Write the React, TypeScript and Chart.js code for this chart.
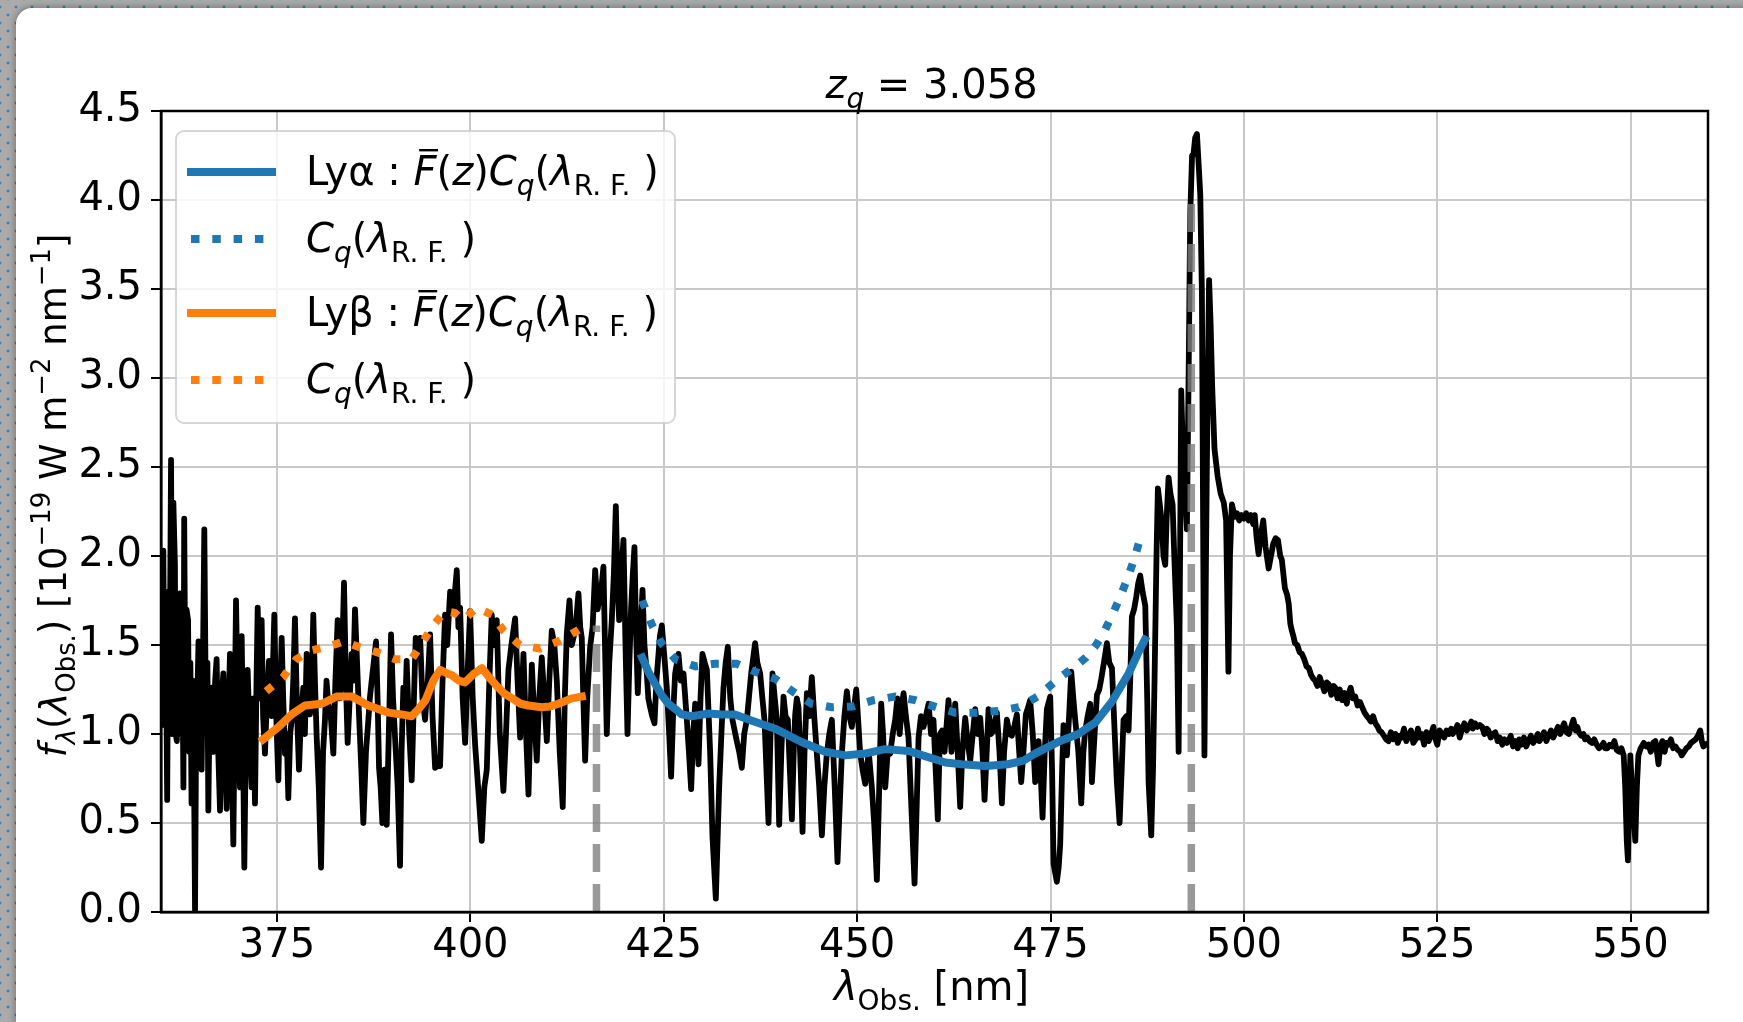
import React, { useEffect, useRef } from "react";
import { Chart, registerables } from "chart.js";

Chart.register(...registerables);

// ---------------- DATA ----------------
const xTickValues = [375, 400, 425, 450, 475, 500, 525, 550];
const yTickValues = [0, 0.5, 1, 1.5, 2, 2.5, 3, 3.5, 4, 4.5];

// observed spectrum [lambda_obs (nm), flux]
const spectrum: [number, number][] = [
  [360.0, 1.45], [360.15, 1.05], [360.3, 2.03], [360.45, 1.1], [360.6, 1.7], [360.8, 0.63], [360.95, 1.8], [361.1, 1.2],
  [361.3, 2.54], [361.45, 1.0], [361.6, 2.3], [361.8, 1.95], [361.9, 1.0], [362.05, 0.96], [362.2, 1.6], [362.45, 1.79],
  [362.6, 1.0], [362.75, 1.5], [362.9, 0.7], [363.0, 2.21], [363.15, 1.2], [363.3, 1.7], [363.5, 1.64], [363.65, 0.9],
  [363.8, 1.4], [363.95, 0.61], [364.1, 1.3], [364.25, 0.9], [364.4, 0.01], [364.55, 1.1], [364.7, 1.2], [364.85, 1.52],
  [365.0, 1.0], [365.25, 0.8], [365.4, 1.3], [365.6, 2.15], [365.8, 1.1], [366.0, 1.4], [366.12, 0.57], [366.3, 1.2],
  [366.55, 1.26], [366.8, 0.9], [367.0, 1.3], [367.19, 1.42], [367.4, 0.9], [367.63, 0.57], [367.85, 1.2], [368.06, 1.34],
  [368.25, 0.9], [368.49, 0.58], [368.7, 1.1], [368.92, 1.45], [369.15, 0.9], [369.35, 0.38], [369.55, 1.2], [369.7, 1.75],
  [369.95, 1.1], [370.21, 0.7], [370.43, 1.55], [370.6, 1.0], [370.77, 0.25], [371.0, 1.1], [371.2, 1.36], [371.45, 1.0],
  [371.72, 0.7], [371.95, 1.2], [372.15, 0.61], [372.35, 1.3], [372.5, 1.71], [372.75, 1.2], [373.01, 1.64], [373.2, 1.1],
  [373.44, 0.89], [373.7, 1.2], [373.96, 1.41], [374.3, 1.1], [374.65, 1.67], [374.9, 1.1], [375.17, 0.74], [375.4, 1.2],
  [375.6, 1.54], [375.8, 1.2], [376.03, 0.89], [376.25, 1.0], [376.46, 0.64], [376.7, 1.0], [376.89, 1.08], [377.1, 1.3],
  [377.32, 1.65], [377.6, 1.1], [377.84, 0.8], [378.1, 1.1], [378.4, 1.26], [378.6, 1.0], [378.83, 1.45], [379.0, 1.25],
  [379.26, 1.11], [379.5, 1.3], [379.69, 1.67], [379.9, 1.3], [380.13, 0.98], [380.4, 0.7], [380.69, 0.25], [380.95, 0.9],
  [381.2, 1.08], [381.4, 1.3], [381.63, 1.17], [381.95, 1.1], [382.28, 0.89], [382.55, 1.3], [382.84, 1.64], [383.1, 1.2],
  [383.36, 1.34], [383.66, 1.85], [383.9, 1.3], [384.13, 0.95], [384.4, 1.2], [384.65, 1.45], [384.85, 1.3], [385.08, 1.7],
  [385.35, 1.4], [385.6, 1.11], [385.9, 0.8], [386.16, 0.5], [386.5, 0.9], [386.81, 1.08], [387.0, 1.2], [387.24, 1.3],
  [387.5, 1.4], [387.8, 1.52], [388.0, 1.2], [388.19, 0.81], [388.4, 0.7], [388.62, 0.5], [388.9, 0.8], [389.18, 0.49],
  [389.45, 1.0], [389.74, 1.56], [390.0, 1.2], [390.26, 0.98], [390.6, 0.7], [390.9, 0.26], [391.1, 0.9], [391.33, 1.26],
  [391.55, 1.1], [391.76, 1.41], [392.1, 1.0], [392.41, 0.74], [392.7, 1.2], [392.93, 1.54], [393.2, 1.5], [393.5, 1.54],
  [393.8, 1.2], [394.14, 1.08], [394.5, 1.3], [394.79, 1.56], [395.1, 1.1], [395.44, 0.81], [395.8, 0.82], [396.08, 0.82],
  [396.4, 1.3], [396.73, 1.67], [397.0, 1.5], [397.38, 1.8], [397.8, 1.7], [398.0, 1.8], [398.24, 1.92], [398.45, 1.6],
  [398.67, 1.71], [399.0, 1.2], [399.32, 0.95], [399.6, 1.3], [399.96, 1.69], [400.3, 1.2], [400.61, 0.94], [401.0, 0.7],
  [401.47, 0.4], [401.8, 0.7], [402.12, 0.8], [402.45, 1.3], [402.76, 1.67], [403.1, 1.5], [403.41, 1.64], [403.8, 1.0],
  [404.27, 0.68], [404.6, 1.0], [404.92, 1.36], [405.3, 1.5], [405.78, 1.65], [406.1, 1.3], [406.43, 0.98], [406.86, 1.45],
  [407.2, 1.0], [407.51, 0.66], [407.94, 1.39], [408.25, 1.1], [408.58, 0.85], [408.9, 1.2], [409.23, 1.43], [409.55, 1.2],
  [409.88, 0.96], [410.2, 1.3], [410.52, 1.58], [410.85, 1.5], [411.17, 1.3], [411.55, 0.9], [411.94, 0.59], [412.2, 1.2],
  [412.46, 1.56], [412.81, 1.75], [413.1, 1.5], [413.32, 1.54], [413.6, 1.6], [413.97, 1.79], [414.2, 1.6], [414.4, 1.54],
  [414.6, 1.2], [414.83, 0.85], [415.1, 1.2], [415.48, 1.49], [415.8, 1.6], [416.13, 1.92], [416.45, 1.7], [416.77, 1.79],
  [417.0, 1.85], [417.2, 1.94], [417.4, 1.5], [417.63, 1.0], [417.95, 1.4], [418.28, 1.64], [418.55, 1.9], [418.8, 2.28],
  [419.0, 1.9], [419.23, 1.64], [419.5, 1.9], [419.79, 2.09], [420.05, 1.5], [420.31, 1.0], [420.55, 1.4], [420.78, 1.71],
  [421.0, 1.9], [421.21, 2.05], [421.4, 1.6], [421.64, 1.23], [421.9, 1.5], [422.25, 1.81], [422.5, 1.5], [422.81, 1.34],
  [423.0, 1.2], [423.24, 1.15], [423.5, 1.1], [423.8, 1.06], [424.05, 1.3], [424.32, 1.45], [424.5, 1.55], [424.75, 1.61],
  [425.05, 1.45], [425.39, 1.26], [425.7, 1.0], [425.95, 0.76], [426.2, 1.1], [426.47, 1.34], [426.9, 1.45], [427.2, 1.3],
  [427.55, 1.34], [427.98, 1.08], [428.25, 0.9], [428.54, 0.69], [428.8, 1.0], [429.06, 1.17], [429.49, 0.83], [429.75, 1.2],
  [430.0, 1.45], [430.3, 1.4], [430.57, 1.36], [431.0, 0.89], [431.3, 0.42], [431.73, 0.075], [431.95, 0.4], [432.16, 0.7],
  [432.45, 1.0], [432.72, 1.26], [433.0, 1.4], [433.28, 1.49], [433.6, 1.2], [433.88, 1.08], [434.44, 0.96], [434.75, 0.9],
  [435.09, 0.81], [435.4, 1.0], [435.74, 1.08], [436.0, 1.2], [436.3, 1.34], [436.81, 1.51], [437.1, 1.4], [437.46, 1.34],
  [437.75, 1.2], [438.02, 1.08], [438.54, 0.5], [438.8, 1.0], [439.06, 1.34], [439.35, 1.2], [439.62, 1.08], [439.92, 0.49],
  [440.2, 0.9], [440.48, 1.21], [440.75, 1.1], [441.04, 1.08], [441.3, 0.8], [441.56, 0.52], [441.8, 0.9], [441.99, 1.11],
  [442.2, 1.2], [442.42, 1.15], [442.7, 0.8], [442.94, 0.45], [443.2, 0.9], [443.5, 1.23], [443.8, 1.1], [444.14, 1.32],
  [444.45, 1.1], [444.79, 0.89], [445.1, 0.7], [445.44, 0.43], [445.75, 0.7], [446.08, 0.89], [446.4, 1.0], [446.73, 1.08],
  [447.1, 0.7], [447.46, 0.28], [447.75, 0.6], [448.02, 0.89], [448.35, 1.1], [448.67, 1.24], [449.0, 1.1], [449.31, 1.04],
  [449.6, 1.15], [449.88, 1.25], [450.1, 1.1], [450.39, 0.89], [450.7, 0.8], [451.04, 0.72], [451.5, 0.9], [451.9, 0.7],
  [452.2, 0.5], [452.55, 0.18], [452.8, 0.6], [453.11, 1.17], [453.35, 1.0], [453.63, 0.7], [453.95, 0.9], [454.27, 0.89],
  [454.6, 1.0], [454.92, 1.08], [455.2, 1.2], [455.5, 1.0], [455.75, 1.15], [456.0, 1.23], [456.3, 1.1], [456.64, 0.98],
  [457.0, 0.6], [457.42, 0.16], [457.7, 0.6], [457.94, 0.98], [458.25, 1.1], [458.58, 1.04], [458.9, 1.1], [459.23, 1.17],
  [459.55, 1.0], [459.87, 1.08], [460.15, 0.8], [460.43, 0.52], [460.7, 1.0], [461.0, 1.02], [461.3, 0.9], [461.81, 1.19],
  [462.2, 0.9], [462.68, 1.17], [463.0, 0.9], [463.32, 0.59], [463.6, 0.9], [463.97, 1.09], [464.3, 0.95], [464.62, 0.85],
  [464.95, 1.0], [465.26, 1.14], [465.6, 1.0], [465.91, 1.09], [466.2, 0.9], [466.47, 0.63], [466.75, 0.9], [466.99, 1.14],
  [467.3, 1.0], [467.63, 1.02], [468.06, 1.12], [468.4, 0.9], [468.71, 0.61], [469.0, 0.9], [469.36, 1.08], [469.7, 1.0],
  [470.0, 0.99], [470.35, 1.05], [470.65, 1.11], [470.95, 0.9], [471.21, 0.73], [471.5, 0.9], [471.81, 1.11], [472.1, 1.15],
  [472.37, 1.19], [472.7, 1.0], [473.02, 0.73], [473.25, 0.8], [473.45, 0.96], [473.7, 0.8], [473.97, 0.53], [474.25, 0.9],
  [474.53, 1.14], [474.96, 1.21], [475.2, 0.8], [475.39, 0.27], [475.82, 0.17], [476.05, 0.25], [476.25, 0.38], [476.5, 0.8],
  [476.68, 1.05], [477.12, 0.88], [477.4, 1.1], [477.68, 1.35], [477.95, 1.2], [478.19, 1.08], [478.6, 0.9], [478.97, 0.61],
  [479.25, 0.9], [479.49, 1.02], [479.8, 1.1], [480.13, 1.17], [480.35, 0.73], [480.7, 1.0], [481.0, 1.22], [481.3, 1.25],
  [481.56, 1.31], [481.9, 1.4], [482.29, 1.51], [482.6, 1.4], [482.94, 1.37], [483.3, 1.0], [483.58, 0.73], [483.93, 0.5],
  [484.2, 0.8], [484.44, 1.08], [484.8, 1.1], [485.09, 1.02], [485.3, 1.3], [485.52, 1.66], [485.8, 1.7], [486.08, 1.77],
  [486.35, 1.85], [486.6, 1.89], [486.9, 1.8], [487.25, 1.72], [487.5, 1.2], [487.68, 0.73], [488.02, 0.43], [488.25, 0.8],
  [488.45, 1.31], [488.7, 2.0], [488.88, 2.38], [489.1, 2.3], [489.4, 2.18], [489.6, 2.0], [489.83, 1.95], [490.0, 2.2],
  [490.26, 2.44], [490.5, 2.35], [490.78, 2.29], [491.0, 2.0], [491.34, 1.6], [491.56, 0.9], [491.75, 2.0], [491.9, 2.93],
  [492.1, 2.6], [492.33, 2.41], [492.63, 2.15], [492.85, 3.0], [493.06, 3.92], [493.3, 4.25], [493.49, 4.26], [493.7, 4.35],
  [493.93, 4.37], [494.15, 4.2], [494.36, 4.03], [494.57, 3.48], [494.75, 2.0], [494.9, 0.88], [495.1, 2.0], [495.3, 2.9],
  [495.5, 3.55], [495.7, 3.3], [495.9, 2.95], [496.2, 2.6], [496.6, 2.45], [497.0, 2.35], [497.4, 2.3], [497.7, 2.2],
  [498.0, 1.35], [498.2, 2.0], [498.45, 2.29], [498.8, 2.22], [499.1, 2.24], [499.4, 2.2], [499.7, 2.23], [500.0, 2.21],
  [500.3, 2.24], [500.6, 2.2], [500.9, 2.23], [501.2, 2.18], [501.4, 2.23], [501.65, 2.1], [501.9, 2.01], [502.2, 2.12],
  [502.5, 2.2], [502.8, 2.05], [503.2, 1.93], [503.5, 2.0], [503.8, 2.07], [504.1, 2.1], [504.4, 2.09], [504.7, 2.0],
  [504.9, 1.98], [505.1, 1.9], [505.3, 1.82], [505.6, 1.78], [505.8, 1.73], [506.0, 1.62], [506.2, 1.58], [506.4, 1.55],
  [506.6, 1.51], [506.9, 1.5], [507.2, 1.46], [507.5, 1.45], [507.8, 1.42], [508.1, 1.38], [508.4, 1.37], [508.7, 1.33],
  [509.0, 1.31], [509.2, 1.3], [509.5, 1.27], [509.8, 1.32], [510.1, 1.28], [510.4, 1.24], [510.7, 1.29], [510.95, 1.28],
  [511.3, 1.22], [511.6, 1.27], [511.8, 1.26], [512.1, 1.2], [512.4, 1.25], [512.7, 1.19], [513.0, 1.23], [513.3, 1.17],
  [513.5, 1.22], [513.8, 1.26], [514.1, 1.2], [514.4, 1.21], [514.7, 1.16], [515.0, 1.18], [515.3, 1.15], [515.6, 1.12],
  [515.9, 1.1], [516.1, 1.09], [516.4, 1.07], [516.7, 1.1], [517.0, 1.06], [517.3, 1.04], [517.5, 1.02], [517.8, 1.01],
  [518.1, 0.99], [518.4, 0.97], [518.7, 0.96], [519.0, 1.01], [519.3, 0.97], [519.6, 1.0], [519.9, 0.95], [520.2, 0.99],
  [520.4, 0.98], [520.7, 1.03], [521.0, 0.96], [521.3, 0.99], [521.6, 1.02], [521.9, 0.95], [522.2, 0.97], [522.5, 1.03],
  [522.8, 0.98], [523.0, 1.0], [523.3, 0.94], [523.6, 1.01], [523.9, 0.96], [524.2, 1.0], [524.5, 1.04], [524.7, 0.98],
  [525.0, 0.94], [525.3, 1.02], [525.6, 1.0], [525.9, 0.98], [526.2, 1.02], [526.5, 1.0], [526.8, 1.03], [527.0, 1.0],
  [527.3, 1.02], [527.6, 1.05], [527.9, 0.98], [528.2, 1.03], [528.5, 1.06], [528.8, 1.02], [529.1, 1.04], [529.4, 1.07],
  [529.6, 1.03], [529.9, 1.06], [530.2, 1.04], [530.5, 1.05], [530.8, 1.04], [531.1, 1.0], [531.4, 1.03], [531.6, 1.02],
  [531.9, 0.98], [532.2, 1.0], [532.5, 1.01], [532.8, 0.96], [533.1, 0.98], [533.4, 0.94], [533.7, 0.97], [534.0, 0.95],
  [534.2, 0.96], [534.5, 0.99], [534.8, 0.93], [535.1, 0.96], [535.4, 0.92], [535.6, 0.97], [535.9, 0.94], [536.2, 0.98],
  [536.5, 0.93], [536.8, 0.96], [537.1, 0.99], [537.4, 0.95], [537.7, 0.97], [538.0, 1.0], [538.2, 0.96], [538.5, 0.98],
  [538.8, 1.01], [539.1, 0.96], [539.4, 0.99], [539.7, 1.02], [540.0, 0.98], [540.3, 1.01], [540.6, 1.04], [540.9, 1.0],
  [541.1, 1.03], [541.4, 1.06], [541.7, 1.01], [542.0, 1.0], [542.3, 1.04], [542.6, 1.08], [542.9, 1.02], [543.1, 1.04],
  [543.3, 1.01], [543.6, 0.99], [543.9, 1.0], [544.1, 0.97], [544.4, 0.98], [544.7, 0.96], [545.0, 0.95], [545.3, 0.97],
  [545.6, 0.94], [545.9, 0.92], [546.2, 0.93], [546.5, 0.95], [546.7, 0.92], [547.0, 0.92], [547.3, 0.94], [547.6, 0.93],
  [547.9, 0.96], [548.2, 0.91], [548.5, 0.9], [548.8, 0.92], [549.1, 0.88], [549.3, 0.7], [549.5, 0.4], [549.65, 0.29],
  [549.8, 0.6], [549.96, 0.88], [550.15, 0.7], [550.3, 0.6], [550.45, 0.5], [550.6, 0.4], [550.8, 0.7], [551.0, 0.88],
  [551.3, 0.92], [551.7, 0.95], [552.0, 0.93], [552.3, 0.94], [552.6, 0.9], [552.9, 0.95], [553.2, 0.96], [553.4, 0.9],
  [553.6, 0.83], [553.8, 0.92], [554.1, 0.96], [554.4, 0.9], [554.6, 0.95], [554.9, 0.94], [555.2, 0.97], [555.5, 0.92],
  [555.8, 0.93], [556.1, 0.91], [556.4, 0.9], [556.6, 0.88], [556.9, 0.9], [557.2, 0.92], [557.5, 0.93], [557.8, 0.95],
  [558.1, 0.96], [558.4, 0.97], [558.7, 0.99], [559.0, 1.02], [559.2, 0.96], [559.4, 0.93], [559.7, 0.94], [560.0, 0.95],
];

// Ly-alpha forest model: F(z) C_q
const lyAlphaLambda = [422.2, 423.0, 423.9, 424.7, 425.6, 426.5, 427.3, 428.6, 430.8, 432.5, 434.2, 436.4, 439.4, 442.8, 445.9, 448.5, 451.0, 453.6, 456.6, 459.2, 461.4, 463.5, 466.6, 469.5, 471.5, 473.0, 476.0, 478.6, 480.8, 482.9, 485.1, 486.6, 487.2];
const lyAlphaFlux = [1.43, 1.35, 1.28, 1.22, 1.17, 1.14, 1.11, 1.10, 1.115, 1.11, 1.11, 1.075, 1.03, 0.955, 0.90, 0.88, 0.89, 0.915, 0.905, 0.87, 0.84, 0.83, 0.82, 0.83, 0.85, 0.89, 0.956, 1.0, 1.065, 1.18, 1.34, 1.48, 1.53];
// Ly-alpha continuum C_q
const lyAlphaContLambda = [422.2, 423.5, 424.7, 426.5, 429.1, 431.6, 434.4, 436.8, 439.4, 441.8, 444.1, 446.7, 449.5, 452.1, 454.9, 457.5, 460.3, 462.7, 465.5, 468.3, 470.9, 473.3, 475.2, 476.6, 478.2, 479.6, 480.9, 482.0, 483.0, 484.0, 485.0, 485.8, 486.6];
const lyAlphaContFlux = [1.75, 1.61, 1.51, 1.42, 1.38, 1.395, 1.395, 1.35, 1.31, 1.235, 1.17, 1.15, 1.155, 1.19, 1.21, 1.19, 1.15, 1.12, 1.12, 1.13, 1.15, 1.21, 1.28, 1.33, 1.38, 1.43, 1.50, 1.58, 1.67, 1.77, 1.88, 1.98, 2.10];
// Ly-beta forest model
const lyBetaLambda = [373.2, 375.2, 376.9, 378.6, 380.8, 382.7, 384.7, 386.8, 389.4, 391.1, 392.4, 393.3, 394.2, 395.2, 396.1, 397.0, 397.6, 398.5, 399.3, 400.5, 401.5, 402.4, 403.2, 404.3, 405.4, 406.5, 407.5, 409.2, 410.3, 411.4, 413.1, 414.4];
const lyBetaFlux = [0.97, 1.04, 1.11, 1.16, 1.17, 1.21, 1.21, 1.16, 1.12, 1.11, 1.10, 1.14, 1.19, 1.30, 1.36, 1.34, 1.33, 1.30, 1.29, 1.34, 1.37, 1.32, 1.28, 1.23, 1.20, 1.17, 1.16, 1.15, 1.155, 1.17, 1.20, 1.21];
// Ly-beta continuum
const lyBetaContLambda = [373.6, 375.8, 377.5, 379.5, 381.6, 383.6, 385.5, 387.9, 390.3, 392.4, 393.9, 395.2, 396.7, 398.0, 399.1, 400.8, 402.8, 404.3, 406.4, 409.0, 411.6, 413.8, 414.5];
const lyBetaContFlux = [1.24, 1.32, 1.42, 1.47, 1.49, 1.52, 1.49, 1.46, 1.42, 1.42, 1.52, 1.61, 1.69, 1.68, 1.64, 1.71, 1.67, 1.58, 1.50, 1.48, 1.525, 1.58, 1.60];
// emission line positions (Ly-beta, Ly-alpha) and marker heights
const lineLambda = [416.3, 493.2];
const lineTop = [1.61, 4.0];

// ---------------- TEXT HELPERS ----------------
type Seg = { t: string; it?: boolean; sub?: boolean; sup?: boolean; bar?: boolean };
const FAMILY = '"DejaVu Sans", sans-serif';
const FS = 40;

function segFont(s: Seg, size: number) {
  const sz = s.sub || s.sup ? size * 0.7 : size;
  return `${s.it ? "italic " : ""}${sz}px ${FAMILY}`;
}
function measureMath(ctx: CanvasRenderingContext2D, segs: Seg[], size: number) {
  let w = 0;
  for (const s of segs) {
    ctx.font = segFont(s, size);
    w += ctx.measureText(s.t).width;
  }
  return w;
}
function drawMath(ctx: CanvasRenderingContext2D, segs: Seg[], x: number, y: number, size: number, align: "left" | "center") {
  const w = measureMath(ctx, segs, size);
  let cx = align === "center" ? x - w / 2 : x;
  ctx.textAlign = "left";
  ctx.textBaseline = "alphabetic";
  ctx.fillStyle = "#000";
  for (const s of segs) {
    ctx.font = segFont(s, size);
    const dy = s.sub ? size * 0.25 : s.sup ? -size * 0.42 : 0;
    ctx.fillText(s.t, cx, y + dy);
    const sw = ctx.measureText(s.t).width;
    if (s.bar) ctx.fillRect(cx + size * 0.14, y - size * 0.9, sw * 0.82, size * 0.06);
    cx += sw;
  }
}

const titleSegs: Seg[] = [{ t: "z", it: true }, { t: "q", it: true, sub: true }, { t: " = 3.058" }];
const xLabelSegs: Seg[] = [{ t: "λ", it: true }, { t: "Obs.", sub: true }, { t: " [nm]" }];
const yLabelSegs: Seg[] = [
  { t: "f", it: true }, { t: "λ", it: true, sub: true }, { t: "(" }, { t: "λ", it: true }, { t: "Obs.", sub: true },
  { t: ") [10" }, { t: "−19", sup: true }, { t: " W m" }, { t: "−2", sup: true }, { t: " nm" }, { t: "−1", sup: true }, { t: "]" },
];
const fzSegs = (ly: string): Seg[] => [
  { t: ly + " : " }, { t: "F", it: true, bar: true }, { t: "(" }, { t: "z", it: true }, { t: ")" },
  { t: "C", it: true }, { t: "q", it: true, sub: true }, { t: "(" }, { t: "λ", it: true }, { t: "R. F.", sub: true }, { t: " )" },
];
const cqSegs: Seg[] = [
  { t: "C", it: true }, { t: "q", it: true, sub: true }, { t: "(" }, { t: "λ", it: true }, { t: "R. F.", sub: true }, { t: " )" },
];
const BLUE = "#1f77b4";
const ORANGE = "#ff7f0e";
const legendItems = [
  { segs: fzSegs("Lyα"), color: BLUE, dotted: false },
  { segs: cqSegs, color: BLUE, dotted: true },
  { segs: fzSegs("Lyβ"), color: ORANGE, dotted: false },
  { segs: cqSegs, color: ORANGE, dotted: true },
];

const pts = (xs: number[], ys: number[]) => xs.map((x, i) => ({ x, y: ys[i] }));

const decorPlugin = {
  id: "decor",
  afterDraw(chart: any) {
    const ctx: CanvasRenderingContext2D = chart.ctx;
    const a = chart.chartArea;
    ctx.save();
    // spines
    ctx.strokeStyle = "#000";
    ctx.lineWidth = 2.5;
    ctx.strokeRect(a.left, a.top, a.right - a.left, a.bottom - a.top);
    // legend
    const lx = 176, ly = 131, lw = 499, lh = 292;
    ctx.beginPath();
    (ctx as any).roundRect(lx, ly, lw, lh, 8);
    ctx.fillStyle = "rgba(255,255,255,0.8)";
    ctx.fill();
    ctx.strokeStyle = "rgba(204,204,204,0.8)";
    ctx.lineWidth = 2;
    ctx.stroke();
    const rowY = [172, 239, 313, 380];
    legendItems.forEach((it, i) => {
      const y = rowY[i];
      ctx.beginPath();
      ctx.strokeStyle = it.color;
      ctx.lineWidth = 8;
      ctx.lineCap = "butt";
      if (it.dotted) {
        ctx.setLineDash([8.5, 12.8]);
        ctx.lineDashOffset = -4;
      } else {
        ctx.setLineDash([]);
      }
      ctx.moveTo(187, y);
      ctx.lineTo(276, y);
      ctx.stroke();
      ctx.setLineDash([]);
      drawMath(ctx, it.segs, 306, y + 13, FS, "left");
    });
    // title
    drawMath(ctx, titleSegs, (a.left + a.right) / 2 - 3, 98, FS, "center");
    // x label
    drawMath(ctx, xLabelSegs, (a.left + a.right) / 2 - 3, 1000, FS, "center");
    // y label
    ctx.save();
    ctx.translate(66, (a.top + a.bottom) / 2 - 16);
    ctx.rotate(-Math.PI / 2);
    drawMath(ctx, yLabelSegs, 0, 0, 37, "center");
    ctx.restore();
    ctx.restore();
  },
};

export default function App() {
  const ref = useRef<HTMLCanvasElement>(null);
  useEffect(() => {
    const canvas = ref.current!;
    const tickFont = { family: FAMILY, size: FS };
    const chart = new Chart(canvas, {
      type: "line",
      data: {
        datasets: [
          {
            data: pts(lyAlphaLambda, lyAlphaFlux), borderColor: BLUE, borderWidth: 8, pointRadius: 0,
            borderCapStyle: "square", borderJoinStyle: "round", order: 1,
          },
          {
            data: pts(lyAlphaContLambda, lyAlphaContFlux), borderColor: BLUE, borderWidth: 8, pointRadius: 0,
            borderDash: [8, 13], borderCapStyle: "butt", order: 1,
          },
          {
            data: pts(lyBetaLambda, lyBetaFlux), borderColor: ORANGE, borderWidth: 8, pointRadius: 0,
            borderCapStyle: "square", borderJoinStyle: "round", order: 1,
          },
          {
            data: pts(lyBetaContLambda, lyBetaContFlux), borderColor: ORANGE, borderWidth: 8, pointRadius: 0,
            borderDash: [8, 13], borderCapStyle: "butt", order: 1,
          },
          ...lineLambda.map((lam, i) => ({
            data: [{ x: lam, y: 0 }, { x: lam, y: lineTop[i] }],
            borderColor: "rgba(128,128,128,0.8)", borderWidth: 7.5, pointRadius: 0,
            borderDash: [28, 12], borderCapStyle: "butt" as const, order: 5,
          })),
          {
            data: spectrum.map(([x, y]) => ({ x, y })), borderColor: "#000", borderWidth: 5.8, pointRadius: 0,
            borderJoinStyle: "round", order: 10,
          },
        ],
      },
      options: {
        responsive: false,
        animation: false,
        events: [],
        layout: { padding: { left: 0, top: 111, right: 35, bottom: 0 } },
        plugins: { legend: { display: false }, tooltip: { enabled: false }, title: { display: false } },
        elements: { line: { tension: 0 } },
        scales: {
          x: {
            type: "linear", min: 360, max: 560,
            afterBuildTicks: (s: any) => { s.ticks = xTickValues.map((v) => ({ value: v })); },
            afterFit: (s: any) => { s.height = 110; },
            ticks: { font: tickFont, color: "#000", padding: 1, maxRotation: 0, autoSkip: false, callback: (v: any) => String(v) },
            grid: { color: "#c8c8c8", lineWidth: 2, tickColor: "#000", tickWidth: 2, tickLength: 10 },
            border: { display: true, color: "#000", width: 2.5 },
          },
          y: {
            type: "linear", min: 0, max: 4.5,
            afterBuildTicks: (s: any) => { s.ticks = yTickValues.map((v) => ({ value: v })); },
            afterFit: (s: any) => { s.width = 161; },
            ticks: { font: tickFont, color: "#000", padding: 9, autoSkip: false, callback: (v: any) => Number(v).toFixed(1) },
            grid: { color: "#c8c8c8", lineWidth: 2, tickColor: "#000", tickWidth: 2, tickLength: 10 },
            border: { display: true, color: "#000", width: 2.5 },
          },
        },
      } as any,
      plugins: [decorPlugin],
    });
    return () => chart.destroy();
  }, []);

  const dot = "radial-gradient(circle at 8px 8px, #3e7cb8 1.2px, rgba(0,0,0,0) 1.7px)";
  return (
    <div
      style={{
        position: "absolute", left: 0, top: 0, width: 1743, height: 1022, overflow: "hidden",
        backgroundColor: "#ababab",
        backgroundImage: `${dot}, ${dot}`,
        backgroundSize: "16px 16px, 16px 16px",
        backgroundPosition: "-8px -1px, 0px 7px",
      }}
    >
      <div
        style={{
          position: "absolute", left: 16, top: 8, width: 1760, height: 1040, background: "#fff",
          borderTopLeftRadius: 16, boxShadow: "0 0 6px 2px rgba(0,0,0,0.25)",
        }}
      />
      <canvas ref={ref} width={1743} height={1022} style={{ position: "absolute", left: 0, top: 0, width: 1743, height: 1022 }} />
    </div>
  );
}
